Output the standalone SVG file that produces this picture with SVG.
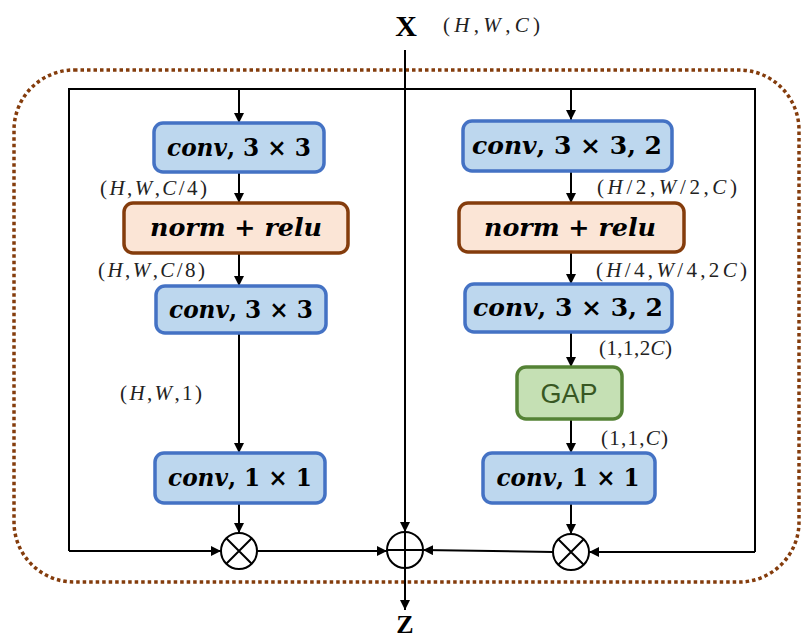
<svg xmlns="http://www.w3.org/2000/svg" width="801" height="640" viewBox="0 0 801 640">
<defs>
<marker id="ah" viewBox="0 0 10 10" refX="10" refY="5" markerWidth="10" markerHeight="10" markerUnits="userSpaceOnUse" orient="auto">
<path d="M0,0 L10,5 L0,10 z" fill="#000"/>
</marker>
<style>
.blue{fill:#bdd7ee;stroke:#4472c4;stroke-width:3.5}
.orange{fill:#fbe5d6;stroke:#843c0c;stroke-width:3.5}
.green{fill:#c5e0b4;stroke:#548235;stroke-width:3.5}
.lbl{font-family:"DejaVu Serif",serif;font-weight:bold;font-size:24px;fill:#000;text-anchor:middle}
.lbl .i{font-style:italic}
.dim{font-family:"Liberation Serif",serif;font-size:21px;fill:#222}
.dim .i{font-style:italic}
.ln{fill:none;stroke:#000;stroke-width:2}
.ar{fill:none;stroke:#000;stroke-width:2;marker-end:url(#ah)}
.op{fill:#fff;stroke:#000;stroke-width:2}
</style>
</defs>
<rect x="14" y="70" width="785" height="512" rx="60" ry="60" fill="none" stroke="#843c0c" stroke-width="3.5" stroke-dasharray="3.5 3"/>
<text x="406" y="36" font-family="Liberation Serif,serif" font-weight="bold" font-size="30" text-anchor="middle">X</text>
<text class="dim" x="443" y="32" textLength="97" lengthAdjust="spacing">(<tspan class="i">H</tspan>,<tspan class="i">W</tspan>,<tspan class="i">C</tspan>)</text>
<text x="405" y="633" font-family="Liberation Serif,serif" font-weight="bold" font-size="26" text-anchor="middle">Z</text>
<g id="connectors">
<path class="ln" d="M69,551 L69,89 L755,89 L755,552"/>
<path class="ar" d="M239,89 L239,123"/>
<path class="ar" d="M571,89 L571,120"/>
<path class="ar" d="M405,50 L405,532"/>
<path class="ar" d="M405,568 L405,610"/>
<path class="ar" d="M239,172 L239,203"/>
<path class="ar" d="M239,253 L239,286"/>
<path class="ar" d="M239,333 L239,453"/>
<path class="ar" d="M239,503 L239,533"/>
<path class="ar" d="M69,551 L221,551"/>
<path class="ar" d="M257,551 L387,551"/>
<path class="ar" d="M571,172 L571,203"/>
<path class="ar" d="M571,252 L571,284"/>
<path class="ar" d="M571,332 L571,367"/>
<path class="ar" d="M571,419 L571,453"/>
<path class="ar" d="M571,503 L571,534"/>
<path class="ar" d="M755,552 L589,552"/>
<path class="ar" d="M553,552 L423,550"/>
</g>
<g id="l-conv1"><rect class="blue" x="154" y="123" width="170" height="49" rx="9"/><text class="lbl" x="239" y="156" textLength="144" lengthAdjust="spacingAndGlyphs"><tspan class="i">conv</tspan>, 3 × 3</text></g>
<text class="dim" x="100" y="195" textLength="107" lengthAdjust="spacing">(<tspan class="i">H</tspan>,<tspan class="i">W</tspan>,<tspan class="i">C</tspan>/4)</text>
<g id="l-norm"><rect class="orange" x="124" y="203" width="224" height="50" rx="9"/><text class="lbl" x="236" y="236" textLength="172" lengthAdjust="spacingAndGlyphs"><tspan class="i">norm</tspan> + <tspan class="i">relu</tspan></text></g>
<text class="dim" x="98" y="277" textLength="107" lengthAdjust="spacing">(<tspan class="i">H</tspan>,<tspan class="i">W</tspan>,<tspan class="i">C</tspan>/8)</text>
<g id="l-conv2"><rect class="blue" x="156" y="286" width="170" height="47" rx="9"/><text class="lbl" x="241" y="318" textLength="144" lengthAdjust="spacingAndGlyphs"><tspan class="i">conv</tspan>, 3 × 3</text></g>
<text class="dim" x="120" y="400" textLength="82" lengthAdjust="spacing">(<tspan class="i">H</tspan>,<tspan class="i">W</tspan>,1)</text>
<g id="l-conv3"><rect class="blue" x="155" y="453" width="170" height="50" rx="9"/><text class="lbl" x="240" y="486" textLength="144" lengthAdjust="spacingAndGlyphs"><tspan class="i">conv</tspan>, 1 × 1</text></g>
<g id="l-mul"><circle class="op" cx="239" cy="551" r="18"/><path class="ln" d="M226.3,538.3 L251.7,563.7 M251.7,538.3 L226.3,563.7"/></g>
<g id="add"><circle class="op" cx="405" cy="550" r="18"/><path class="ln" d="M387,550 L423,550 M405,532 L405,568"/></g>
<g id="r-conv1"><rect class="blue" x="463" y="121" width="209" height="50" rx="9"/><text class="lbl" x="567" y="154" textLength="190" lengthAdjust="spacingAndGlyphs"><tspan class="i">conv</tspan>, 3 × 3,  2</text></g>
<text class="dim" x="597" y="194" textLength="140" lengthAdjust="spacing">(<tspan class="i">H</tspan>/2,<tspan class="i">W</tspan>/2,<tspan class="i">C</tspan>)</text>
<g id="r-norm"><rect class="orange" x="459" y="203" width="225" height="49" rx="9"/><text class="lbl" x="570" y="236" textLength="172" lengthAdjust="spacingAndGlyphs"><tspan class="i">norm</tspan> + <tspan class="i">relu</tspan></text></g>
<text class="dim" x="596" y="277" textLength="151" lengthAdjust="spacing">(<tspan class="i">H</tspan>/4,<tspan class="i">W</tspan>/4,2<tspan class="i">C</tspan>)</text>
<g id="r-conv2"><rect class="blue" x="465" y="284" width="207" height="48" rx="9"/><text class="lbl" x="568" y="316" textLength="190" lengthAdjust="spacingAndGlyphs"><tspan class="i">conv</tspan>, 3 × 3,  2</text></g>
<text class="dim" x="599" y="355" textLength="73" lengthAdjust="spacing">(1,1,2<tspan class="i">C</tspan>)</text>
<g id="r-gap"><rect class="green" x="517" y="367" width="105" height="52" rx="9"/><text x="569" y="403" font-family="Liberation Sans,sans-serif" font-size="27" fill="#385723" text-anchor="middle">GAP</text></g>
<text class="dim" x="601" y="445" textLength="67" lengthAdjust="spacing">(1,1,<tspan class="i">C</tspan>)</text>
<g id="r-conv3"><rect class="blue" x="483" y="453" width="172" height="50" rx="9"/><text class="lbl" x="568" y="486" textLength="143" lengthAdjust="spacingAndGlyphs"><tspan class="i">conv</tspan>, 1 × 1</text></g>
<g id="r-mul"><circle class="op" cx="571" cy="552" r="18"/><path class="ln" d="M558.3,539.3 L583.7,564.7 M583.7,539.3 L558.3,564.7"/></g>
</svg>
